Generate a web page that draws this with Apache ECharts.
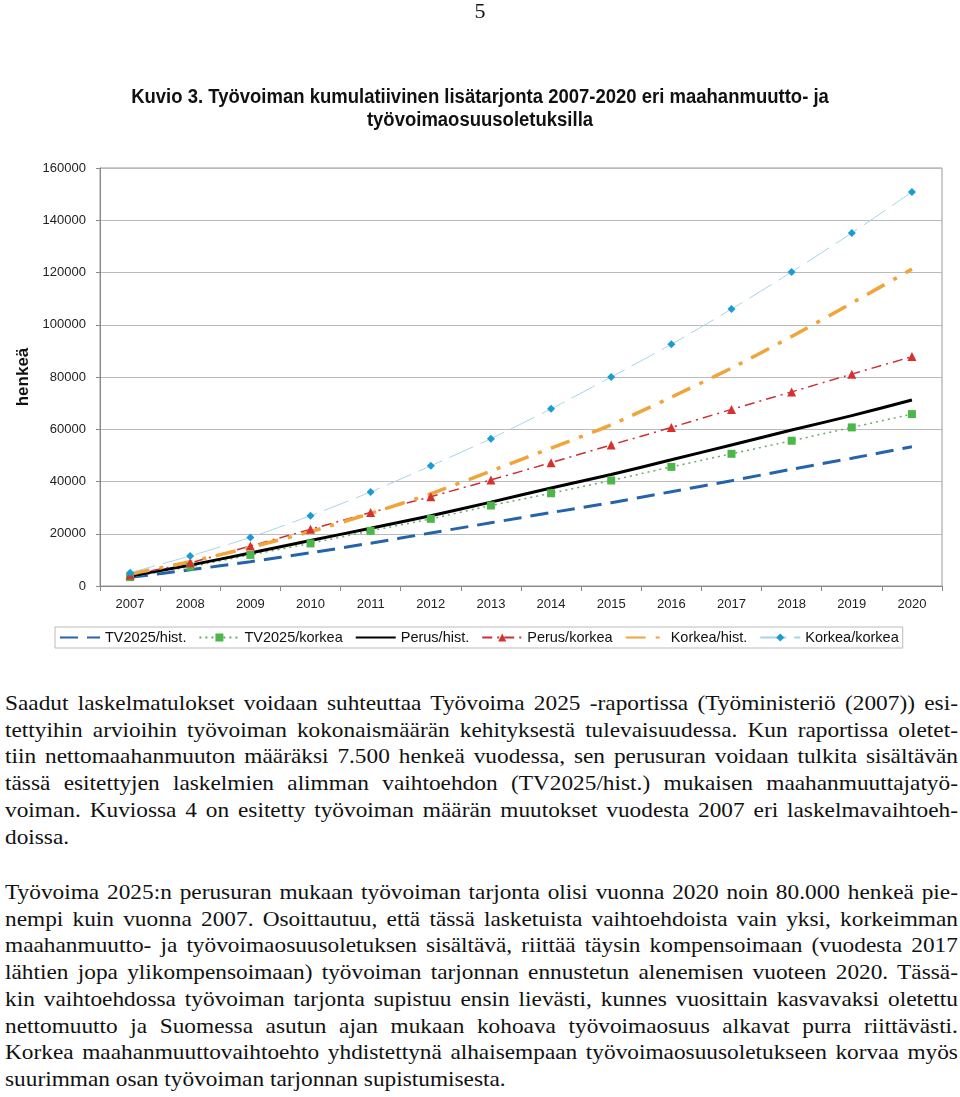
<!DOCTYPE html>
<html>
<head>
<meta charset="utf-8">
<script src="https://cdn.jsdelivr.net/npm/echarts@6/dist/echarts.min.js"></script>
<style>
  html, body { margin: 0; padding: 0; background: #fff; }
  body { width: 960px; height: 1097px; position: relative; overflow: hidden; }
  .pageno { position: absolute; top: -2px; left: 0; width: 960px; text-align: center; z-index: 2;
    font-family: "Liberation Serif", "Times New Roman", serif; font-size: 22px; color: #111; }
  .title { position: absolute; top: 85px; left: 0; width: 960px; text-align: center; z-index: 2;
    font-family: "Liberation Sans", Arial, sans-serif; font-size: 20px; font-weight: bold; line-height: 22.5px; color: #111;
    transform: scaleX(0.925); transform-origin: 480px 0; }
  #chart { position: absolute; left: 0; top: 0; width: 960px; height: 670px; }
  .txt { position: absolute; left: 5px; width: 899px; transform: scaleX(1.06); transform-origin: 0 0;
    font-family: "Liberation Serif", "Times New Roman", serif; font-size: 22px; line-height: 26.7px; color: #111; }
  .txt div { text-align: justify; text-align-last: justify; white-space: nowrap; }
  .txt div.last { text-align: left; text-align-last: left; }
</style>
</head>
<body>
<div class="pageno">5</div>
<div class="title">Kuvio 3. Työvoiman kumulatiivinen lisätarjonta 2007-2020 eri maahanmuutto- ja<br>työvoimaosuusoletuksilla</div>
<div id="chart"></div>

<div class="txt" style="top:690px">
  <div>Saadut laskelmatulokset voidaan suhteuttaa Työvoima 2025 -raportissa (Työministeriö (2007)) esi-</div>
  <div>tettyihin arvioihin työvoiman kokonaismäärän kehityksestä tulevaisuudessa. Kun raportissa oletet-</div>
  <div>tiin nettomaahanmuuton määräksi 7.500 henkeä vuodessa, sen perusuran voidaan tulkita sisältävän</div>
  <div>tässä esitettyjen laskelmien alimman vaihtoehdon (TV2025/hist.) mukaisen maahanmuuttajatyö-</div>
  <div>voiman. Kuviossa 4 on esitetty työvoiman määrän muutokset vuodesta 2007 eri laskelmavaihtoeh-</div>
  <div class="last">doissa.</div>
</div>

<div class="txt" style="top:879px">
  <div>Työvoima 2025:n perusuran mukaan työvoiman tarjonta olisi vuonna 2020 noin 80.000 henkeä pie-</div>
  <div>nempi kuin vuonna 2007. Osoittautuu, että tässä lasketuista vaihtoehdoista vain yksi, korkeimman</div>
  <div>maahanmuutto- ja työvoimaosuusoletuksen sisältävä, riittää täysin kompensoimaan (vuodesta 2017</div>
  <div>lähtien jopa ylikompensoimaan) työvoiman tarjonnan ennustetun alenemisen vuoteen 2020. Tässä-</div>
  <div>kin vaihtoehdossa työvoiman tarjonta supistuu ensin lievästi, kunnes vuosittain kasvavaksi oletettu</div>
  <div>nettomuutto ja Suomessa asutun ajan mukaan kohoava työvoimaosuus alkavat purra riittävästi.</div>
  <div>Korkea maahanmuuttovaihtoehto yhdistettynä alhaisempaan työvoimaosuusoletukseen korvaa myös</div>
  <div class="last">suurimman osan työvoiman tarjonnan supistumisesta.</div>
</div>

<script>
const years = ['2007', '2008', '2009', '2010', '2011', '2012', '2013', '2014', '2015', '2016', '2017', '2018', '2019', '2020']

// kumulatiivinen lisätarjonta, henkeä
const tv2025Hist = [3300, 6200, 9300, 12700, 16400, 20300, 24200, 28100, 31900, 36100, 40300, 44700, 48900, 53300]
const tv2025Korkea = [3400, 7400, 11900, 16300, 21100, 25700, 30800, 35500, 40400, 45600, 50600, 55600, 60700, 65800]
const perusHist = [3800, 8000, 12600, 17400, 22100, 26900, 32100, 37500, 42700, 48300, 54000, 59700, 65200, 71200]
const perusKorkea = [4200, 8900, 15300, 21700, 28100, 34200, 40600, 47200, 54000, 60700, 67600, 74300, 81100, 87800]
const korkeaHist = [4600, 9300, 14800, 20800, 27800, 35300, 44000, 52800, 61700, 72300, 83400, 95500, 108300, 121300]
const korkeaKorkea = [5100, 11500, 18600, 26900, 36000, 46000, 56400, 67800, 80000, 92500, 106000, 120200, 135100, 150800]

const sans = "'Liberation Sans', Arial, sans-serif"

const chart = echarts.init(document.getElementById('chart'), null, { renderer: 'canvas' })

// series without markers: hide the legend symbol, keep the line
const noMark = { opacity: 0 }

const option = {
  animation: false,
  backgroundColor: 'transparent',
  grid: {
    left: 100,
    top: 168,
    width: 842,
    height: 418,
    show: true,
    borderColor: '#999',
    borderWidth: 1
  },
  legend: {
    left: 55,
    top: 627,
    itemWidth: 40,
    itemHeight: 10,
    itemGap: 12,
    padding: [3, 4, 3, 4],
    borderColor: '#bbb',
    borderWidth: 1,
    textStyle: { fontFamily: sans, fontSize: 14.5, color: '#111' },
    data: [
      { name: 'TV2025/hist.', itemStyle: noMark },
      { name: 'TV2025/korkea' },
      { name: 'Perus/hist.', itemStyle: noMark },
      { name: 'Perus/korkea' },
      { name: 'Korkea/hist.', itemStyle: noMark },
      { name: 'Korkea/korkea' }
    ]
  },
  xAxis: {
    type: 'category',
    data: years,
    boundaryGap: true,
    axisLine: { lineStyle: { color: '#888' } },
    axisTick: { show: true, length: 5, lineStyle: { color: '#888' } },
    axisLabel: { fontFamily: sans, fontSize: 13, color: '#222', margin: 12 },
    splitLine: { show: false }
  },
  yAxis: {
    type: 'value',
    min: 0,
    max: 160000,
    interval: 20000,
    name: 'henkeä',
    nameLocation: 'middle',
    nameRotate: 90,
    nameGap: 59,
    nameTextStyle: { fontFamily: sans, fontSize: 17, fontWeight: 'bold', color: '#111' },
    axisLine: { show: true, lineStyle: { color: '#888' } },
    axisTick: { show: true, length: 4, lineStyle: { color: '#888' } },
    axisLabel: { fontFamily: sans, fontSize: 13, color: '#222', margin: 14, formatter: (v) => String(v) },
    splitLine: { lineStyle: { color: '#bbb', width: 1 } }
  },
  series: [
    {
      name: 'TV2025/hist.',
      type: 'line',
      data: tv2025Hist,
      symbol: 'none',
      smooth: 0.2,
      color: '#2464ac',
      lineStyle: { color: '#2464ac', width: 3, type: [18, 9] }
    },
    {
      name: 'TV2025/korkea',
      type: 'line',
      data: tv2025Korkea,
      symbol: 'rect',
      symbolSize: 8,
      smooth: 0.2,
      color: '#4cb748',
      itemStyle: { color: '#4cb748' },
      lineStyle: { color: '#6aa86a', width: 1.5, type: [2, 4] }
    },
    {
      name: 'Perus/hist.',
      type: 'line',
      data: perusHist,
      symbol: 'none',
      smooth: 0.2,
      color: '#000',
      lineStyle: { color: '#000', width: 3 }
    },
    {
      name: 'Perus/korkea',
      type: 'line',
      data: perusKorkea,
      symbol: 'triangle',
      symbolSize: 9,
      smooth: 0.2,
      color: '#d8302c',
      itemStyle: { color: '#d8302c' },
      lineStyle: { color: '#c8303a', width: 1.5, type: [10, 5, 2, 5] }
    },
    {
      name: 'Korkea/hist.',
      type: 'line',
      data: korkeaHist,
      symbol: 'none',
      smooth: 0.2,
      color: '#f0a43a',
      lineStyle: { color: '#f0a43a', width: 3.5, type: [20, 10, 4, 10] }
    },
    {
      name: 'Korkea/korkea',
      type: 'line',
      data: korkeaKorkea,
      symbol: 'diamond',
      symbolSize: 8,
      smooth: 0.2,
      color: '#1a9ad6',
      itemStyle: { color: '#1a9ad6' },
      lineStyle: { color: '#a8d4e4', width: 1, type: [26, 8] }
    }
  ]
}

chart.setOption(option)
</script>
</body>
</html>
